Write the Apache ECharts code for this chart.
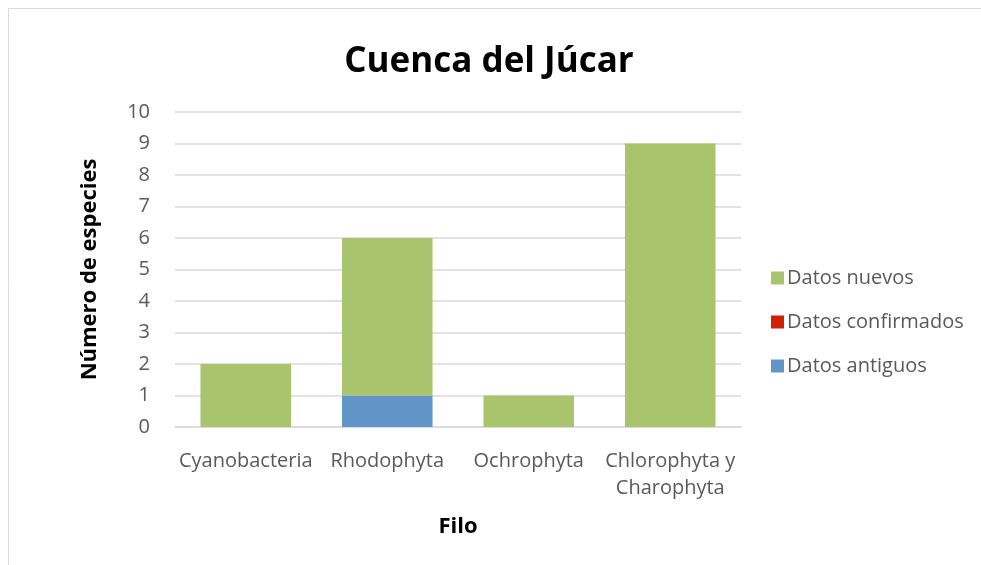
<!DOCTYPE html>
<html>
<head>
<meta charset="utf-8">
<script src="https://cdn.jsdelivr.net/npm/echarts@6/dist/echarts.min.js"></script>
<style>html,body{margin:0;padding:0;background:#fff}#c{width:981px;height:565px}</style>
</head>
<body>
<div id="c"></div>
<script>
const categories = ['Cyanobacteria', 'Rhodophyta', 'Ochrophyta', 'Chlorophyta y\nCharophyta'];
const datosAntiguos = [0, 1, 0, 0];
const datosConfirmados = [0, 0, 0, 0];
const datosNuevos = [2, 5, 1, 9];
const yTicks = [0, 1, 2, 3, 4, 5, 6, 7, 8, 9, 10];

const font = '"Open Sans", "Noto Sans", sans-serif';
const chart = echarts.init(document.getElementById('c'), null, {renderer: 'canvas'});
chart.setOption({
  animation: false,
  backgroundColor: '#fff',
  graphic: [{
    type: 'rect', shape: {x: 8.5, y: 8.5, width: 1200, height: 1200},
    style: {fill: 'none', stroke: '#d9d9d9', lineWidth: 1}, silent: true, z: -1
  }],
  title: {
    text: 'Cuenca del Júcar', left: 484, top: 40, textAlign: 'center',
    textStyle: {fontFamily: font, fontSize: 35, fontWeight: 'bold', color: '#000'}
  },
  legend: {
    orient: 'vertical', left: 766, top: 263, itemGap: 24, itemWidth: 13, itemHeight: 13,
    icon: 'rect',
    data: ['Datos nuevos', 'Datos confirmados', 'Datos antiguos'],
    textStyle: {fontFamily: font, fontSize: 20, color: '#595959', padding: [0, 0, 0, -2]}
  },
  grid: {left: 175, right: 240, top: 112, bottom: 138},
  xAxis: {
    type: 'category', data: categories,
    name: 'Filo', nameLocation: 'middle', nameGap: 89,
    nameTextStyle: {fontFamily: font, fontSize: 22, fontWeight: 'bold', color: '#000'},
    axisLine: {lineStyle: {color: '#d9d9d9', width: 1.5}},
    axisTick: {show: false},
    axisLabel: {fontFamily: font, fontSize: 20, color: '#595959', margin: 21, lineHeight: 27, interval: 0}
  },
  yAxis: {
    type: 'value', min: yTicks[0], max: yTicks[yTicks.length - 1], interval: 1,
    name: 'Número de especies', nameLocation: 'middle', nameGap: 74,
    nameTextStyle: {fontFamily: font, fontSize: 22, fontWeight: 'bold', color: '#000'},
    axisLine: {show: false}, axisTick: {show: false},
    splitLine: {lineStyle: {color: '#d9d9d9', width: 1.5}},
    axisLabel: {fontFamily: font, fontSize: 20, color: '#595959', margin: 25}
  },
  series: [
    {name: 'Datos antiguos', type: 'bar', stack: 's', data: datosAntiguos, barWidth: '64%', itemStyle: {color: '#6195C8'}},
    {name: 'Datos confirmados', type: 'bar', stack: 's', data: datosConfirmados, barWidth: '64%', itemStyle: {color: '#D12200'}},
    {name: 'Datos nuevos', type: 'bar', stack: 's', data: datosNuevos, barWidth: '64%', itemStyle: {color: '#A9C46C'}}
  ]
});
</script>
</body>
</html>
